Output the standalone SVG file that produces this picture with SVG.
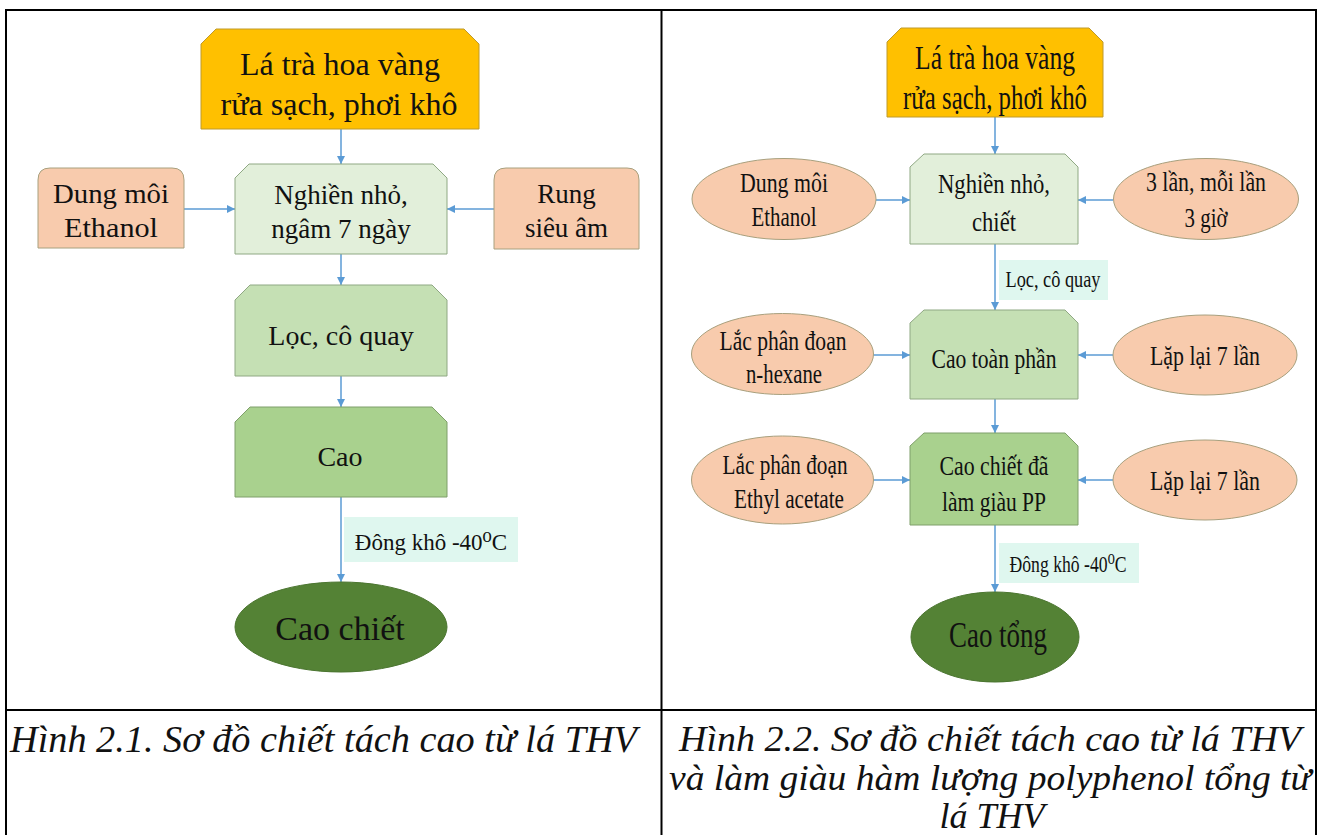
<svg xmlns="http://www.w3.org/2000/svg" width="1320" height="835" viewBox="0 0 1320 835">
<defs>
<marker id="arr" markerUnits="userSpaceOnUse" markerWidth="9" markerHeight="8" refX="8" refY="4" orient="auto">
<path d="M0,0 L8,4 L0,8 Z" fill="#5b9bd5"/>
</marker>
<style>
text{fill:#111;text-anchor:middle}
.cap{font-style:italic;font-size:38px}
.cap2{font-style:italic;font-size:36px}
.yel{fill:#ffc000;stroke:#bf9a2a;stroke-width:1}
.g1{fill:#e2efda;stroke:#8fa883;stroke-width:1}
.g2{fill:#c5e0b4;stroke:#8fa883;stroke-width:1}
.g3{fill:#a9d18e;stroke:#7f9f6a;stroke-width:1}
.sal{fill:#f8cbad;stroke:#a8a07e;stroke-width:1}
.dk{fill:#548235;stroke:#4b7530;stroke-width:1}
.lab{fill:#dff7ef}
.ln{stroke:#5b9bd5;stroke-width:1.5;fill:none;marker-end:url(#arr)}
.tb{stroke:#000;stroke-width:2;fill:none}
.t27{font-size:27px}
.t28{font-size:28px}
</style>
</defs>
<g id="table">
<path class="tb" d="M6,10 H1316 M6,9 V835 M1316,9 V835 M661.5,9 V835 M6,710 H1316"/>
</g>
<g id="connectors">
<path class="ln" d="M341,129 V164"/>
<path class="ln" d="M184,209 H235"/>
<path class="ln" d="M494,209 H447"/>
<path class="ln" d="M341,254 V285"/>
<path class="ln" d="M341,376 V407"/>
<path class="ln" d="M341,497 V582"/>
<path class="ln" d="M995,117 V154"/>
<path class="ln" d="M876,200 H910"/>
<path class="ln" d="M1113,200 H1078"/>
<path class="ln" d="M995,244 V310"/>
<path class="ln" d="M873,355 H910"/>
<path class="ln" d="M1113,355 H1078"/>
<path class="ln" d="M995,399 V433"/>
<path class="ln" d="M873,480 H910"/>
<path class="ln" d="M1113,480 H1078"/>
<path class="ln" d="M995,525 V592"/>
</g>
<g font-family="Liberation Serif, DejaVu Serif, serif">
<g id="L-top">
<path class="yel" d="M216,29 H464 L479,44 V129 H201 V44 Z"/>
<text x="340" y="75" font-size="32">Lá trà hoa vàng</text>
<text x="339" y="115" font-size="32">rửa sạch, phơi khô</text>
</g>
<g id="L-nghien">
<path class="g1" d="M249,164 H433 L447,178 V254 H235 V178 Z"/>
<text class="t27" x="341" y="204">Nghiền nhỏ,</text>
<text class="t27" x="341" y="238">ngâm 7 ngày</text>
</g>
<g id="L-dungmoi">
<path class="sal" d="M50,168 H172 Q184,168 184,180 V248 H38 V180 Q38,168 50,168 Z"/>
<text class="t27" x="111" y="203" textLength="116" lengthAdjust="spacingAndGlyphs">Dung môi</text>
<text class="t27" x="111" y="237" textLength="94" lengthAdjust="spacingAndGlyphs">Ethanol</text>
</g>
<g id="L-rung">
<path class="sal" d="M506,168 H627 Q639,168 639,180 V249 H494 V180 Q494,168 506,168 Z"/>
<text class="t27" x="566.5" y="203">Rung</text>
<text class="t27" x="566.5" y="237">siêu âm</text>
</g>
<g id="L-loc">
<path class="g2" d="M250,285 H432 L447,300 V376 H235 V300 Z"/>
<text class="t28" x="341" y="345">Lọc, cô quay</text>
</g>
<g id="L-cao">
<path class="g3" d="M250,407 H432 L447,422 V497 H235 V422 Z"/>
<text class="t28" x="340" y="466">Cao</text>
</g>
<g id="L-label">
<rect class="lab" x="344" y="517" width="174" height="45"/>
<text x="431" y="550" font-size="23">Đông khô -40⁰C</text>
</g>
<g id="L-caochiet">
<ellipse class="dk" cx="341" cy="627" rx="106" ry="45"/>
<text x="340" y="640" font-size="34">Cao chiết</text>
</g>
<g id="R-top">
<path class="yel" d="M901,28 H1089 L1103,42 V117 H887 V42 Z"/>
<text x="995" y="69" font-size="33" textLength="160" lengthAdjust="spacingAndGlyphs">Lá trà hoa vàng</text>
<text x="995" y="109" font-size="33" textLength="184" lengthAdjust="spacingAndGlyphs">rửa sạch, phơi khô</text>
</g>
<g id="R-nghien">
<path class="g1" d="M924,154 H1065 L1078,167 V244 H910 V167 Z"/>
<text class="t28" x="994" y="193" textLength="112" lengthAdjust="spacingAndGlyphs">Nghiền nhỏ,</text>
<text class="t28" x="994" y="231" textLength="44" lengthAdjust="spacingAndGlyphs">chiết</text>
</g>
<g id="R-dungmoi">
<ellipse class="sal" cx="784" cy="199" rx="92" ry="40.5"/>
<text class="t27" x="784" y="192" textLength="88" lengthAdjust="spacingAndGlyphs">Dung môi</text>
<text class="t27" x="784" y="226" textLength="65" lengthAdjust="spacingAndGlyphs">Ethanol</text>
</g>
<g id="R-3lan">
<ellipse class="sal" cx="1206" cy="199" rx="92.5" ry="40.5"/>
<text class="t27" x="1206" y="191" textLength="120" lengthAdjust="spacingAndGlyphs">3 lần, mỗi lần</text>
<text class="t27" x="1206" y="227" textLength="43" lengthAdjust="spacingAndGlyphs">3 giờ</text>
</g>
<g id="R-label1">
<rect class="lab" x="999" y="260" width="109" height="40"/>
<text x="1053" y="287" font-size="24" textLength="95" lengthAdjust="spacingAndGlyphs">Lọc, cô quay</text>
</g>
<g id="R-caotoan">
<path class="g2" d="M924,310 H1065 L1078,323 V399 H910 V323 Z"/>
<text class="t28" x="994" y="368" textLength="125" lengthAdjust="spacingAndGlyphs">Cao toàn phần</text>
</g>
<g id="R-hexane">
<ellipse class="sal" cx="782.5" cy="354" rx="91" ry="40.5"/>
<text class="t27" x="783" y="350" textLength="127" lengthAdjust="spacingAndGlyphs">Lắc phân đoạn</text>
<text class="t27" x="784" y="383" textLength="76" lengthAdjust="spacingAndGlyphs">n-hexane</text>
</g>
<g id="R-lap1">
<ellipse class="sal" cx="1205" cy="355" rx="92" ry="40"/>
<text class="t28" x="1205" y="365" textLength="110" lengthAdjust="spacingAndGlyphs">Lặp lại 7 lần</text>
</g>
<g id="R-caochietda">
<path class="g3" d="M924,433 H1065 L1078,446 V525 H910 V446 Z"/>
<text class="t28" x="994" y="475" textLength="109" lengthAdjust="spacingAndGlyphs">Cao chiết đã</text>
<text class="t28" x="994" y="511" textLength="104" lengthAdjust="spacingAndGlyphs">làm giàu PP</text>
</g>
<g id="R-ethyl">
<ellipse class="sal" cx="782.5" cy="480" rx="91" ry="44"/>
<text class="t27" x="785" y="474" textLength="125" lengthAdjust="spacingAndGlyphs">Lắc phân đoạn</text>
<text class="t27" x="789" y="508" textLength="110" lengthAdjust="spacingAndGlyphs">Ethyl acetate</text>
</g>
<g id="R-lap2">
<ellipse class="sal" cx="1205" cy="480" rx="92" ry="40"/>
<text class="t28" x="1205" y="490" textLength="110" lengthAdjust="spacingAndGlyphs">Lặp lại 7 lần</text>
</g>
<g id="R-label2">
<rect class="lab" x="999" y="543" width="140" height="40"/>
<text x="1068" y="572" font-size="23" textLength="117" lengthAdjust="spacingAndGlyphs">Đông khô -40⁰C</text>
</g>
<g id="R-caotong">
<ellipse class="dk" cx="995" cy="637" rx="84" ry="45"/>
<text x="998" y="647" font-size="35" textLength="98" lengthAdjust="spacingAndGlyphs">Cao tổng</text>
</g>
<g id="captions">
<text class="cap" x="10" y="752" style="text-anchor:start" textLength="627" lengthAdjust="spacingAndGlyphs">Hình 2.1. Sơ đồ chiết tách cao từ lá THV</text>
<text class="cap2" x="990" y="751" textLength="622" lengthAdjust="spacingAndGlyphs">Hình 2.2. Sơ đồ chiết tách cao từ lá THV</text>
<text class="cap2" x="990" y="790" textLength="642" lengthAdjust="spacingAndGlyphs">và làm giàu hàm lượng polyphenol tổng từ</text>
<text class="cap2" x="992" y="828">lá THV</text>
</g>
</g>
</svg>
